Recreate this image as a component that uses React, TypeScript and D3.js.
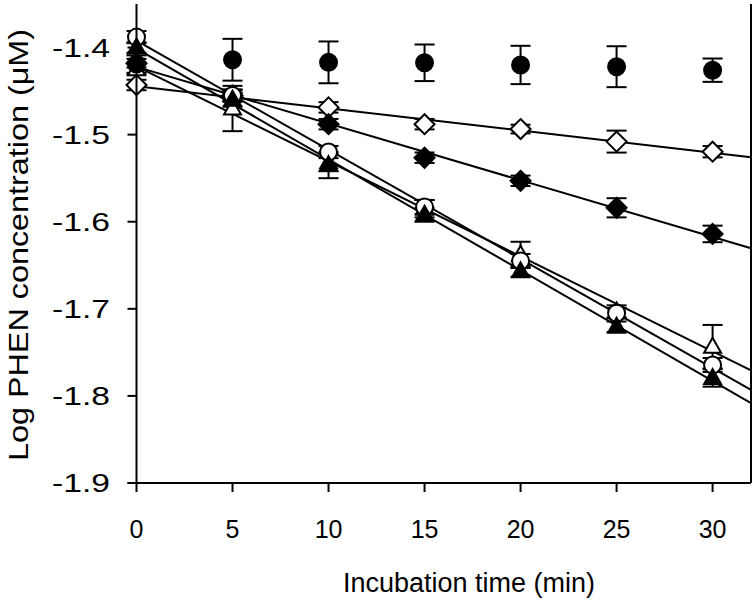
import React from "react";
import * as d3 from "d3";

const times = [0, 5, 10, 15, 20, 25, 30];

const filledCircle = [-1.419, -1.414, -1.417, -1.4175, -1.42, -1.422, -1.426];
const filledCircleErr = [0.01, 0.024, 0.024, 0.021, 0.022, 0.0235, 0.0134];

const openDiamond = [-1.443, -1.457, -1.4687, -1.488, -1.4936, -1.508, -1.5196];
const openDiamondErr = [0.006, 0.005, 0.006, 0.006, 0.005, 0.0126, 0.0065];

const filledDiamond = [-1.418, -1.455, -1.488, -1.5265, -1.553, -1.584, -1.614];
const filledDiamondErr = [0.005, 0.007, 0.006, 0.006, 0.006, 0.011, 0.0095];

const openCircle = [-1.388, -1.455, -1.52, -1.583, -1.645, -1.705, -1.7645];
const openCircleErr = [0.007, 0.006, 0.007, 0.008, 0.008, 0.006, 0.008];

const openTriangle = [-1.425, -1.47, -1.532, -1.585, -1.638, -1.703, -1.7435];
const openTriangleErr = [0.006, 0.026, 0.01, 0.01, 0.015, 0.007, 0.025];

const filledTriangle = [-1.4, -1.46, -1.535, -1.592, -1.657, -1.7206, -1.7794];
const filledTriangleErr = [0.006, 0.008, 0.015, 0.008, 0.006, 0.006, 0.01];

const xTicks = [0, 5, 10, 15, 20, 25, 30];
const yTicks = [-1.4, -1.5, -1.6, -1.7, -1.8, -1.9];

type Series = {
  name: string;
  values: number[];
  errs: number[];
  shape: "circle" | "diamond" | "triangle";
  filled: boolean;
  fit: boolean;
};

const series: Series[] = [
  { name: "openDiamond", values: openDiamond, errs: openDiamondErr, shape: "diamond", filled: false, fit: true },
  { name: "filledDiamond", values: filledDiamond, errs: filledDiamondErr, shape: "diamond", filled: true, fit: true },
  { name: "openTriangle", values: openTriangle, errs: openTriangleErr, shape: "triangle", filled: false, fit: true },
  { name: "openCircle", values: openCircle, errs: openCircleErr, shape: "circle", filled: false, fit: true },
  { name: "filledTriangle", values: filledTriangle, errs: filledTriangleErr, shape: "triangle", filled: true, fit: true },
  { name: "filledCircle", values: filledCircle, errs: filledCircleErr, shape: "circle", filled: true, fit: false },
];

function linreg(xs: number[], ys: number[]) {
  const mx = d3.mean(xs)!;
  const my = d3.mean(ys)!;
  let sxy = 0, sxx = 0;
  xs.forEach((x, i) => {
    sxy += (x - mx) * (ys[i] - my);
    sxx += (x - mx) * (x - mx);
  });
  const slope = sxy / sxx;
  return { slope, intercept: my - slope * mx };
}

export default function App() {
  const W = 755, H = 608;
  const left = 136.5, right = 751, top = 4, bottom = 483;
  const x = d3.scaleLinear().domain([0, 32]).range([left, right]);
  const y = d3.scaleLinear().domain([-1.9, -1.35]).range([bottom, top]);
  const font = "'Liberation Sans', Arial, sans-serif";
  const capHalf = 10;

  const marker = (s: Series, cx: number, cy: number, key: string) => {
    const fill = s.filled ? "#000" : "#fff";
    if (s.shape === "circle") {
      return <circle key={key} cx={cx} cy={cy} r={8.5} fill={fill} stroke="#000" strokeWidth={2} />;
    }
    if (s.shape === "diamond") {
      const r = 10;
      const d = `M${cx},${cy - r}L${cx + r},${cy}L${cx},${cy + r}L${cx - r},${cy}Z`;
      return <path key={key} d={d} fill={fill} stroke="#000" strokeWidth={2} strokeLinejoin="miter" />;
    }
    const hw = 8.5, hh = 15;
    const d = `M${cx},${cy - hh * 0.6}L${cx + hw},${cy + hh * 0.4}L${cx - hw},${cy + hh * 0.4}Z`;
    return <path key={key} d={d} fill={fill} stroke="#000" strokeWidth={2} />;
  };

  const line = d3.line<[number, number]>().x((d) => x(d[0])).y((d) => y(d[1]));

  return (
    <svg width={W} height={H} style={{ position: "absolute", left: 0, top: 0, background: "#fff" }}>
      <rect x={0} y={0} width={W} height={H} fill="#fff" />
      {series.filter((s) => s.fit).map((s) => {
        const { slope, intercept } = linreg(times, s.values);
        const pts: [number, number][] = [
          [0, intercept],
          [32, intercept + slope * 32],
        ];
        return <path key={"l" + s.name} d={line(pts)!} fill="none" stroke="#000" strokeWidth={2} />;
      })}
      {series.map((s) =>
        times.map((t, i) => {
          const cx = x(t);
          const y1 = y(s.values[i] + s.errs[i]);
          const y2 = y(s.values[i] - s.errs[i]);
          return (
            <g key={"e" + s.name + i} stroke="#000" strokeWidth={2}>
              <line x1={cx} x2={cx} y1={y1} y2={y2} />
              <line x1={cx - capHalf} x2={cx + capHalf} y1={y1} y2={y1} />
              <line x1={cx - capHalf} x2={cx + capHalf} y1={y2} y2={y2} />
            </g>
          );
        })
      )}
      {series.map((s) => times.map((t, i) => marker(s, x(t), y(s.values[i]), "m" + s.name + i)))}
      <line x1={left} x2={left} y1={top} y2={bottom} stroke="#000" strokeWidth={2} />
      <line x1={right} x2={right} y1={top} y2={bottom} stroke="#000" strokeWidth={2} />
      <line x1={left - 9} x2={right} y1={bottom} y2={bottom} stroke="#000" strokeWidth={2} />
      {yTicks.map((v) => (
        <g key={"yt" + v}>
          <line x1={left - 9} x2={left} y1={y(v)} y2={y(v)} stroke="#000" strokeWidth={2} />
          <text
            x={110}
            y={y(v) + 9}
            textAnchor="end"
            fontFamily={font}
            fontSize={25}
            fill="#000"
            textLength={58}
            lengthAdjust="spacingAndGlyphs"
          >
            {v.toFixed(1)}
          </text>
        </g>
      ))}
      {xTicks.map((v) => (
        <g key={"xt" + v}>
          <line x1={x(v)} x2={x(v)} y1={bottom} y2={bottom + 9} stroke="#000" strokeWidth={2} />
          <text x={x(v)} y={538} textAnchor="middle" fontFamily={font} fontSize={25} fill="#000">
            {v}
          </text>
        </g>
      ))}
      <text x={469} y={592} textAnchor="middle" fontFamily={font} fontSize={27} fill="#000">
        Incubation time (min)
      </text>
      <text
        transform="rotate(-90)"
        x={-245}
        y={28}
        textAnchor="middle"
        fontFamily={font}
        fontSize={28}
        fill="#000"
        textLength={432}
        lengthAdjust="spacingAndGlyphs"
      >
        Log PHEN concentration (μM)
      </text>
    </svg>
  );
}
